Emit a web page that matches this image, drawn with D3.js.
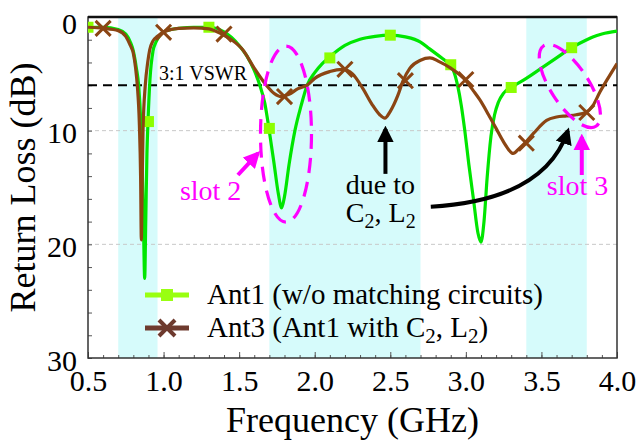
<!DOCTYPE html>
<html>
<head>
<meta charset="utf-8">
<script src="https://cdn.jsdelivr.net/npm/d3@7"></script>
<style>
  body { margin: 0; background: #fff; }
  svg text { font-family: "Liberation Serif", "Tinos", "Times New Roman", "DejaVu Serif", serif; }
</style>
</head>
<body>
<svg width="637" height="442"></svg>
<script>
// Ant1 (w/o matching circuits) - frequency (GHz) and return loss (dB)
var ant1Freq = [0.50, 0.60, 0.70, 0.75, 0.78, 0.80, 0.82, 0.835, 0.85, 0.86, 0.868, 0.875, 0.882, 0.89, 0.897, 0.91, 0.93, 0.95, 0.976, 1.00,
  1.05, 1.10, 1.20, 1.30, 1.40, 1.45, 1.50, 1.55, 1.60, 1.637, 1.67, 1.697, 1.73, 1.76, 1.781, 1.80, 1.83, 1.869, 1.91, 1.95,
  2.00, 2.05, 2.10, 2.20, 2.30, 2.40, 2.50, 2.60, 2.70, 2.76, 2.82, 2.87, 2.90, 2.93, 2.945, 2.97, 2.993, 3.02, 3.05, 3.08,
  3.10, 3.12, 3.141, 3.166, 3.19, 3.215, 3.25, 3.30, 3.35, 3.40, 3.50, 3.60, 3.70, 3.80, 3.84, 3.90, 4.00];
var ant1Loss = [0.9, 0.9, 1.1, 1.5, 2.2, 3.0, 4.5, 6.0, 9.5, 14, 19, 23.0, 18, 12, 9.2, 5.5, 3.0, 2.2, 1.6, 1.3,
  1.1, 1.0, 0.9, 0.9, 1.3, 1.8, 2.5, 3.4, 4.7, 6.0, 7.6, 9.8, 12.8, 15.6, 16.8, 15.8, 13, 10.0, 7.8, 6.0,
  4.9, 4.1, 3.5, 2.5, 1.95, 1.7, 1.6, 1.75, 2.2, 2.8, 3.4, 3.9, 4.2, 5.2, 6.0, 7.8, 10.0, 13, 16, 19,
  19.8, 18, 14.1, 10.5, 8.6, 7.5, 6.7, 6.15, 5.8, 5.4, 4.5, 3.6, 2.7, 2.0, 1.76, 1.5, 1.25];
var ant1MarkFreq = [0.5, 0.9, 1.3, 1.7, 2.1, 2.5, 2.9, 3.3, 3.7];
var ant1MarkLoss = [0.9, 9.2, 0.9, 9.8, 3.6, 1.6, 4.2, 6.2, 2.7];

// Ant3 (Ant1 with C2, L2)
var ant3Freq = [0.50, 0.60, 0.70, 0.75, 0.78, 0.80, 0.815, 0.826, 0.84, 0.848, 0.853, 0.858, 0.864, 0.879, 0.895, 0.908, 0.93, 0.96, 0.996,
  1.05, 1.10, 1.20, 1.30, 1.384, 1.45, 1.525, 1.60, 1.68, 1.73, 1.78, 1.83, 1.89, 1.95, 2.00, 2.10, 2.184, 2.25, 2.319, 2.38,
  2.43, 2.464, 2.50, 2.55, 2.585, 2.63, 2.70, 2.762, 2.82, 2.90, 2.993, 3.05, 3.093, 3.15, 3.20, 3.25, 3.313, 3.35, 3.39,
  3.45, 3.534, 3.60, 3.666, 3.73, 3.793, 3.84, 3.887, 3.94, 4.00];
var ant3Loss = [0.9, 1.0, 1.2, 1.7, 2.5, 3.2, 4.5, 6.0, 9.5, 14, 19.6, 15, 10.0, 6.0, 4.0, 2.9, 2.1, 1.7, 1.35,
  1.1, 1.0, 0.95, 1.05, 1.5, 2.0, 2.9, 4.5, 6.0, 6.7, 7.0, 6.8, 6.3, 6.0, 5.4, 4.8, 4.6, 5.0, 6.3, 7.7,
  8.6, 8.9, 8.3, 6.9, 5.6, 4.5, 3.8, 3.6, 3.9, 4.5, 5.5, 6.5, 7.3, 8.6, 9.8, 11.0, 12.0, 11.6, 11.1,
  10.2, 9.1, 8.8, 8.7, 8.6, 8.4, 7.8, 6.6, 5.4, 4.1];
var ant3MarkFreq = [0.6, 1.0, 1.4, 1.8, 2.2, 2.6, 3.0, 3.4, 3.8];
var ant3MarkLoss = [1.0, 1.35, 1.5, 7.0, 4.6, 5.6, 5.5, 11.1, 8.4];

// shaded bands (GHz)
var bandStart = [0.7, 1.7, 3.4];
var bandEnd = [0.96, 2.7, 3.8];

var xMajor = [0.5, 1.0, 1.5, 2.0, 2.5, 3.0, 3.5, 4.0];
var yMajor = [0, 10, 20, 30];
var vswrLevel = 6.0;

var svg = d3.select("svg");
var pl = 88, pr = 617, pt = 17, pb = 358;
var x = d3.scaleLinear().domain([0.5, 4.0]).range([pl, pr]);
var y = d3.scaleLinear().domain([0, 30]).range([pt, pb]);
var serif = "'Liberation Serif', 'Tinos', 'Times New Roman', 'DejaVu Serif', serif";

svg.append("clipPath").attr("id", "plot")
  .append("rect").attr("x", pl).attr("y", pt).attr("width", pr - pl).attr("height", pb - pt);

// bands
svg.selectAll("rect.band")
    .data(bandStart)
    .enter()
  .append("rect")
    .attr("class", "band")
    .attr("x", function(d) { return x(d); })
    .attr("y", pt)
    .attr("width", function(d, i) { return x(bandEnd[i]) - x(d); })
    .attr("height", pb - pt)
    .style("fill", "#d6fbfb");

// grid
svg.selectAll("line.grid")
    .data([10, 20])
    .enter()
  .append("line")
    .attr("x1", pl).attr("x2", pr)
    .attr("y1", function(d) { return y(d); })
    .attr("y2", function(d) { return y(d); })
    .style("stroke", "#c8c8c8")
    .style("stroke-width", 1)
    .style("stroke-dasharray", "4,3");

// axes
svg.append("g")
    .attr("transform", "translate(0," + pb + ")")
    .call(d3.axisBottom(x).tickValues(d3.range(5, 41).map(function(d) { return d / 10; })).tickSize(-3).tickFormat(""))
    .call(function(g) { g.select(".domain").remove(); g.selectAll("line").style("stroke", "#555"); });
svg.append("g")
    .attr("transform", "translate(0," + pb + ")")
    .call(d3.axisBottom(x).tickValues(xMajor).tickSize(-6).tickPadding(12).tickFormat(d3.format(".1f")))
    .call(function(g) {
      g.attr("font-family", null);
      g.select(".domain").remove();
      g.selectAll("line").style("stroke", "#555");
      g.selectAll("text").style("font-family", serif).style("font-size", "30px").style("fill", "#000");
    });
svg.append("g")
    .attr("transform", "translate(" + pl + ",0)")
    .call(d3.axisLeft(y).tickValues(d3.range(0, 31, 2)).tickSize(-4).tickFormat(""))
    .call(function(g) { g.select(".domain").remove(); g.selectAll("line").style("stroke", "#555"); });
svg.append("g")
    .attr("transform", "translate(" + pl + ",0)")
    .call(d3.axisLeft(y).tickValues(yMajor).tickSize(0).tickPadding(11).tickFormat(d3.format("d")))
    .call(function(g) {
      g.attr("font-family", null);
      g.select(".domain").remove();
      g.selectAll("text").style("font-family", serif).style("font-size", "30px").style("fill", "#000")
        .attr("dy", function(d) { return d === 0 ? "0.55em" : "0.4em"; });
    });

// frame
svg.append("path")
    .attr("d", "M" + pl + "," + pb + "V" + pt + "H" + pr + "V" + pb + "Z")
    .style("fill", "none").style("stroke", "#333").style("stroke-width", 1.5);
svg.append("line")
    .attr("x1", pl).attr("x2", pr).attr("y1", pt).attr("y2", pt)
    .style("stroke", "#111").style("stroke-width", 2.5);

// 3:1 VSWR line
svg.append("line")
    .attr("x1", pl).attr("x2", pr)
    .attr("y1", y(vswrLevel)).attr("y2", y(vswrLevel))
    .style("stroke", "#000").style("stroke-width", 2).style("stroke-dasharray", "9,6");
svg.append("text")
    .attr("x", x(0.97)).attr("y", y(5.5))
    .style("font-size", "20px")
    .text("3:1 VSWR");

var line = d3.line()
    .x(function(d) { return x(d[0]); })
    .y(function(d) { return y(d[1]); })
    .curve(d3.curveMonotoneX);

var plot = svg.append("g").attr("clip-path", "url(#plot)");

plot.append("path")
    .attr("d", line(d3.zip(ant1Freq, ant1Loss)))
    .style("fill", "none").style("stroke", "#00e600").style("stroke-width", 3.2);

plot.selectAll("rect.m1")
    .data(d3.zip(ant1MarkFreq, ant1MarkLoss))
    .enter()
  .append("rect")
    .attr("class", "m1")
    .attr("x", function(d) { return x(d[0]) - 5.5; })
    .attr("y", function(d) { return y(d[1]) - 5.5; })
    .attr("width", 11).attr("height", 11)
    .style("fill", "#8cff00");

plot.append("path")
    .attr("d", line(d3.zip(ant3Freq, ant3Loss)))
    .style("fill", "none").style("stroke", "#8b4513").style("stroke-width", 3.2);

var cross = d3.symbol().type(d3.symbolX).size(150);
plot.selectAll("path.m3")
    .data(d3.zip(ant3MarkFreq, ant3MarkLoss))
    .enter()
  .append("path")
    .attr("class", "m3")
    .attr("d", cross)
    .attr("transform", function(d) { return "translate(" + x(d[0]) + "," + y(d[1]) + ")"; })
    .style("fill", "none").style("stroke", "#8b4513").style("stroke-width", 3);

// annotations
svg.append("defs").selectAll("marker")
    .data([["headK", "#000"], ["headM", "#ff00ff"]])
    .enter()
  .append("marker")
    .attr("id", function(d) { return d[0]; })
    .attr("viewBox", "0 0 10 10")
    .attr("refX", 8).attr("refY", 5)
    .attr("markerWidth", 4.2).attr("markerHeight", 4.2)
    .attr("orient", "auto")
  .append("path")
    .attr("d", "M0,0L10,5L0,10Z")
    .style("fill", function(d) { return d[1]; });

var magenta = "#ff00ff";

svg.append("ellipse")
    .attr("cx", x(1.81)).attr("cy", y(10.3))
    .attr("rx", 25.5).attr("ry", 88)
    .style("fill", "none").style("stroke", magenta).style("stroke-width", 3.2).style("stroke-dasharray", "15,9");
svg.append("ellipse")
    .attr("transform", "translate(" + x(3.688) + "," + y(6.07) + ") rotate(57)")
    .attr("rx", 48).attr("ry", 19)
    .style("fill", "none").style("stroke", magenta).style("stroke-width", 3.2).style("stroke-dasharray", "15,9");

svg.append("line")
    .attr("x1", x(1.492)).attr("y1", y(13.9))
    .attr("x2", x(1.624)).attr("y2", y(12.0))
    .attr("marker-end", "url(#headM)")
    .style("stroke", magenta).style("stroke-width", 4);
svg.append("text")
    .attr("x", x(1.108)).attr("y", y(16.1))
    .style("font-size", "28px").style("fill", magenta)
    .text("slot 2");

svg.append("line")
    .attr("x1", x(3.767)).attr("y1", y(13.9))
    .attr("x2", x(3.767)).attr("y2", y(10.55))
    .attr("marker-end", "url(#headM)")
    .style("stroke", magenta).style("stroke-width", 4);
svg.append("text")
    .attr("x", x(3.536)).attr("y", y(15.65))
    .style("font-size", "28px").style("fill", magenta)
    .text("slot 3");

svg.append("line")
    .attr("x1", x(2.468)).attr("y1", y(13.8))
    .attr("x2", x(2.468)).attr("y2", y(9.85))
    .attr("marker-end", "url(#headK)")
    .style("stroke", "#000").style("stroke-width", 4);
svg.append("path")
    .attr("d", "M" + x(2.768) + "," + y(16.7) + "Q" + x(3.522) + "," + y(16.1) + " " + x(3.675) + "," + y(10.0))
    .attr("marker-end", "url(#headK)")
    .style("fill", "none").style("stroke", "#000").style("stroke-width", 4);

svg.append("text")
    .attr("x", x(2.206)).attr("y", y(15.6))
    .style("font-size", "28px")
    .text("due to");
var cl = svg.append("text")
    .attr("x", x(2.206)).attr("y", y(18.0))
    .style("font-size", "28px");
cl.append("tspan").text("C");
cl.append("tspan").attr("dy", 6).style("font-size", "20px").text("2");
cl.append("tspan").attr("dy", -6).text(", L");
cl.append("tspan").attr("dy", 6).style("font-size", "20px").text("2");

// legend
var lg = svg.append("g");
lg.append("line").attr("x1", 145).attr("x2", 189).attr("y1", 295).attr("y2", 295)
    .style("stroke", "#99ff11").style("stroke-width", 5);
lg.append("rect").attr("x", 161).attr("y", 289).attr("width", 12).attr("height", 12)
    .style("fill", "#99ff11");
lg.append("text").attr("x", 207).attr("y", 304).style("font-size", "29px")
    .text("Ant1 (w/o matching circuits)");

lg.append("line").attr("x1", 145).attr("x2", 189).attr("y1", 328).attr("y2", 328)
    .style("stroke", "#6e3a2e").style("stroke-width", 5);
lg.append("path").attr("d", d3.symbol().type(d3.symbolX).size(170))
    .attr("transform", "translate(167,328)")
    .style("fill", "none").style("stroke", "#6e3a2e").style("stroke-width", 4);
var l2 = lg.append("text").attr("x", 207).attr("y", 337).style("font-size", "29px");
l2.append("tspan").text("Ant3 (Ant1 with C");
l2.append("tspan").attr("dy", 6).style("font-size", "21px").text("2");
l2.append("tspan").attr("dy", -6).text(", L");
l2.append("tspan").attr("dy", 6).style("font-size", "21px").text("2");
l2.append("tspan").attr("dy", -6).text(")");

// axis titles
svg.append("text")
    .attr("x", (pl + pr) / 2).attr("y", 432)
    .attr("text-anchor", "middle")
    .style("font-size", "36px")
    .text("Frequency (GHz)");
svg.append("text")
    .attr("transform", "translate(35," + ((pt + pb) / 2) + ") rotate(-90)")
    .attr("text-anchor", "middle")
    .style("font-size", "36px")
    .text("Return Loss (dB)");
</script>
</body>
</html>
